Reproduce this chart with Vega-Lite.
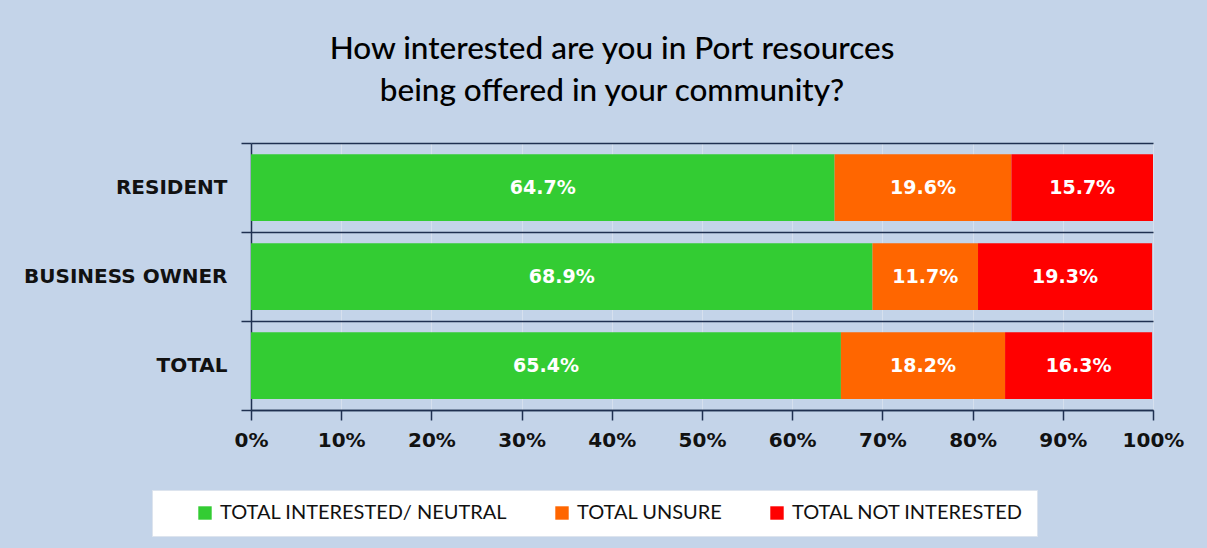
{
  "$schema": "https://vega.github.io/schema/vega-lite/v6.json",
  "width": 902,
  "height": 267,
  "autosize": {"type": "none"},
  "padding": {"left": 251, "top": 143, "right": 54, "bottom": 138},
  "background": "#c4d4e9",
  "config": {"view": {"stroke": null}},
  "title": {
    "text": ["How interested are you in Port resources", "being offered in your community?"],
    "font": "Lato",
    "fontSize": 31.5,
    "fontWeight": 500,
    "color": "#000000",
    "anchor": "middle",
    "dx": -90,
    "offset": 26,
    "lineHeight": 42
  },
  "data": {
    "values": [
      {"group": "RESIDENT", "cat": "TOTAL INTERESTED/ NEUTRAL", "value": 0.647, "order": 1},
      {"group": "RESIDENT", "cat": "TOTAL UNSURE", "value": 0.196, "order": 2},
      {"group": "RESIDENT", "cat": "TOTAL NOT INTERESTED", "value": 0.157, "order": 3},
      {"group": "BUSINESS OWNER", "cat": "TOTAL INTERESTED/ NEUTRAL", "value": 0.689, "order": 1},
      {"group": "BUSINESS OWNER", "cat": "TOTAL UNSURE", "value": 0.117, "order": 2},
      {"group": "BUSINESS OWNER", "cat": "TOTAL NOT INTERESTED", "value": 0.193, "order": 3},
      {"group": "TOTAL", "cat": "TOTAL INTERESTED/ NEUTRAL", "value": 0.654, "order": 1},
      {"group": "TOTAL", "cat": "TOTAL UNSURE", "value": 0.182, "order": 2},
      {"group": "TOTAL", "cat": "TOTAL NOT INTERESTED", "value": 0.163, "order": 3}
    ]
  },
  "transform": [
    {"stack": "value", "groupby": ["group"], "sort": [{"field": "order"}], "as": ["v0", "v1"]},
    {"calculate": "(datum.v0 + datum.v1) / 2", "as": "mid"}
  ],
  "encoding": {
    "y": {
      "field": "group",
      "type": "nominal",
      "title": null,
      "sort": ["RESIDENT", "BUSINESS OWNER", "TOTAL"],
      "scale": {"paddingInner": 0, "paddingOuter": 0},
      "axis": {
        "tickBand": "extent",
        "grid": true,
        "gridColor": "#1f3050",
        "gridWidth": 1.5,
        "ticks": true,
        "tickSize": 10,
        "tickColor": "#1f3050",
        "tickWidth": 1.5,
        "domain": true,
        "domainColor": "#1f3050",
        "domainWidth": 1.5,
        "labelFont": "DejaVu Sans",
        "labelFontWeight": "bold",
        "labelFontSize": 20,
        "labelColor": "#111111",
        "labelPadding": 14,
        "labelLimit": 400
      }
    }
  },
  "layer": [
    {
      "mark": {"type": "bar", "height": {"band": 0.75}},
      "encoding": {
        "x": {
          "field": "v0",
          "type": "quantitative",
          "title": null,
          "scale": {"domain": [0, 1], "nice": false},
          "axis": {
            "format": ".0%",
            "values": [0, 0.1, 0.2, 0.3, 0.4, 0.5, 0.6, 0.7, 0.8, 0.9, 1],
            "grid": true,
            "gridColor": "#d6e0ee",
            "gridWidth": 1,
            "ticks": true,
            "tickSize": 10,
            "tickColor": "#1f3050",
            "tickWidth": 1.5,
            "domainColor": "#1f3050",
            "domainWidth": 1.5,
            "labelFont": "DejaVu Sans",
            "labelFontWeight": "bold",
            "labelFontSize": 20,
            "labelColor": "#111111",
            "labelPadding": 10,
            "labelFlush": false
          }
        },
        "x2": {"field": "v1"},
        "color": {
          "field": "cat",
          "type": "nominal",
          "sort": ["TOTAL INTERESTED/ NEUTRAL", "TOTAL UNSURE", "TOTAL NOT INTERESTED"],
          "scale": {
            "domain": ["TOTAL INTERESTED/ NEUTRAL", "TOTAL UNSURE", "TOTAL NOT INTERESTED"],
            "range": ["#33cc33", "#ff6600", "#ff0000"]
          },
          "legend": {
            "orient": "none",
            "legendX": -99,
            "legendY": 347,
            "direction": "horizontal",
            "title": "\u00a0",
            "titleOrient": "left",
            "titlePadding": 30,
            "fillColor": "#ffffff",
            "strokeColor": "#dde4ee",
            "padding": 13,
            "symbolType": "square",
            "symbolSize": 180,
            "symbolStrokeWidth": 0,
            "symbolOpacity": 1,
            "labelFont": "Lato",
            "labelFontSize": 20,
            "labelColor": "#111111",
            "labelLimit": 400,
            "labelOffset": 5,
            "columnPadding": 44
          }
        }
      }
    },
    {
      "mark": {"type": "text", "color": "#ffffff", "font": "DejaVu Sans", "fontWeight": "bold", "fontSize": 19, "baseline": "middle", "align": "center"},
      "encoding": {
        "x": {"field": "mid", "type": "quantitative", "title": null},
        "text": {"field": "value", "type": "quantitative", "format": ".1%"}
      }
    }
  ]
}
